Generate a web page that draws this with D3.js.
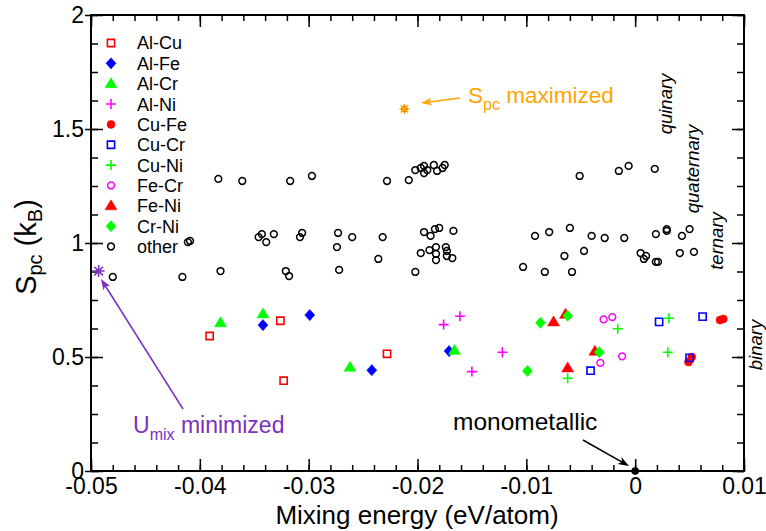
<!DOCTYPE html>
<html>
<head>
<meta charset="utf-8">
<script src="https://cdn.jsdelivr.net/npm/d3@7"></script>
<style>
  body { margin: 0; background: #fff; }
  svg text { font-family: "Liberation Sans", Arial, Helvetica, sans-serif; }
</style>
</head>
<body>
<svg id="chart" width="766" height="531"></svg>
<script>
// ---- data: [mixing energy (eV/atom), S_pc (kB)] ----
var alCu = [[-0.0391, 0.592], [-0.0326, 0.659], [-0.0323, 0.396], [-0.0228, 0.514]];
var alFe = [[-0.0342, 0.640], [-0.0299, 0.684], [-0.0242, 0.442], [-0.0171, 0.526]];
var alCr = [[-0.0381, 0.650], [-0.0342, 0.689], [-0.0262, 0.455], [-0.0166, 0.529]];
var alNi = [[-0.0176, 0.642], [-0.0161, 0.679], [-0.0122, 0.521], [-0.0150, 0.436]];
var cuFe = [[0.0081, 0.667], [0.0078, 0.662], [0.0049, 0.478], [0.0052, 0.500]];
var cuCr = [[0.0022, 0.654], [0.0062, 0.677], [0.0050, 0.496], [-0.0041, 0.440]];
var cuNi = [[-0.0016, 0.624], [0.0031, 0.670], [0.0030, 0.521], [-0.0062, 0.407]];
var feCr = [[-0.0029, 0.665], [-0.0021, 0.675], [-0.0032, 0.474], [-0.0012, 0.503]];
var feNi = [[-0.0075, 0.654], [-0.0064, 0.687], [-0.0037, 0.525], [-0.0062, 0.452]];
var crNi = [[-0.0087, 0.650], [-0.0062, 0.681], [-0.0033, 0.521], [-0.0099, 0.439]];
var other = [
  // quinary
  [-0.0383, 1.281], [-0.0361, 1.272], [-0.0317, 1.272], [-0.0297, 1.294], [-0.0228, 1.272],
  [-0.0208, 1.276], [-0.0202, 1.320], [-0.0197, 1.329], [-0.0194, 1.338], [-0.0194, 1.307],
  [-0.0191, 1.320], [-0.0185, 1.342], [-0.0182, 1.316], [-0.0177, 1.329], [-0.0175, 1.342],
  [-0.0051, 1.294], [-0.0015, 1.316], [-0.0006, 1.338], [0.0018, 1.325],
  // quaternary
  [-0.0411, 1.004], [-0.0409, 1.009], [-0.0346, 1.026], [-0.0343, 1.039], [-0.0339, 1.004],
  [-0.0332, 1.039], [-0.0308, 1.026], [-0.0306, 1.044], [-0.0273, 1.044], [-0.0274, 0.982],
  [-0.0260, 1.026], [-0.0232, 1.026], [-0.0236, 0.930], [-0.0194, 1.048], [-0.0188, 1.031],
  [-0.0184, 1.061], [-0.0180, 1.066], [-0.0167, 1.053], [-0.0197, 0.956], [-0.0189, 0.969],
  [-0.0183, 0.982], [-0.0183, 0.952], [-0.0174, 0.982], [-0.0173, 0.965], [-0.0173, 0.943],
  [-0.0168, 0.934], [-0.0183, 0.925], [-0.0092, 1.031], [-0.0079, 1.048], [-0.0060, 1.066],
  [-0.0040, 1.031], [-0.0028, 1.022], [-0.0010, 1.022], [0.0019, 1.039], [0.0029, 1.061],
  [0.0029, 1.053], [0.0043, 1.031], [0.0050, 1.061], [-0.0065, 0.943], [-0.0047, 0.965],
  [0.0005, 0.956], [0.0010, 0.943], [0.0008, 0.930], [0.0019, 0.917], [0.0021, 0.917],
  [0.0041, 0.956], [0.0054, 0.961],
  // ternary
  [-0.0480, 0.851], [-0.0416, 0.851], [-0.0381, 0.877], [-0.0321, 0.877], [-0.0318, 0.855],
  [-0.0272, 0.882], [-0.0202, 0.873], [-0.0103, 0.895], [-0.0083, 0.873], [-0.0058, 0.873]
];
var uMixMin = [[-0.0493, 0.877]];
var spcMax = [[-0.0212, 1.588]];
var monometallic = [[0, 0]];

var seriesNames = ["Al-Cu", "Al-Fe", "Al-Cr", "Al-Ni", "Cu-Fe", "Cu-Cr", "Cu-Ni", "Fe-Cr", "Fe-Ni", "Cr-Ni", "other"];
var seriesData = [alCu, alFe, alCr, alNi, cuFe, cuCr, cuNi, feCr, feNi, crNi, other];
var seriesShapes = ["square", "diamond", "triangle", "plus", "dot", "square", "plus", "circle", "triangle", "diamond", "circle"];
var seriesColors = ["#ff0000", "#0000ff", "#00ff00", "#ff00ff", "#ff0000", "#0000ff", "#00ff00", "#ff00ff", "#ff0000", "#00ff00", "#000000"];

var xTicks = [-0.05, -0.04, -0.03, -0.02, -0.01, 0, 0.01];
var xTickLabels = ["-0.05", "-0.04", "-0.03", "-0.02", "-0.01", "0", "0.01"];
var yTicks = [0, 0.5, 1, 1.5, 2];
var yTickLabels = ["0", "0.5", "1", "1.5", "2"];

// ---- setup ----
var svg = d3.select("#chart");
var x = d3.scaleLinear().domain([-0.05, 0.01]).range([91, 744]);
var y = d3.scaleLinear().domain([0, 2]).range([471, 15]);
var xMinor = d3.range(-0.05, 0.0101, 0.002);
var yMinor = d3.range(0, 2.001, 0.125);
var purple = "#7b2fc0";
var orange = "#ffa500";

function circlePath(r) {
  return "M" + r + ",0A" + r + "," + r + " 0 1 1 " + (-r) + ",0A" + r + "," + r + " 0 1 1 " + r + ",0Z";
}

// Marker shapes
var shapes = {
  square:   { d: "M-3.6,-3.6H3.6V3.6H-3.6Z", filled: false, sw: 1.6 },
  diamond:  { d: "M0,-5.6L5,0L0,5.6L-5,0Z", filled: true, sw: 0.5 },
  triangle: { d: "M0,-6L6,4L-6,4Z", filled: true, sw: 0.5 },
  plus:     { d: "M-5,0H5M0,-5V5", filled: false, sw: 1.6 },
  dot:      { d: circlePath(4), filled: true, sw: 0.5 },
  circle:   { d: circlePath(3.4), filled: false, sw: 1.5 }
};

function drawMarkers(g, pts, shape, color) {
  var s = shapes[shape];
  g.selectAll(null)
    .data(pts)
    .enter()
    .append("path")
    .attr("transform", function(d) { return "translate(" + x(d[0]) + "," + y(d[1]) + ")"; })
    .attr("d", s.d)
    .attr("fill", s.filled ? color : "none")
    .attr("stroke", color)
    .attr("stroke-width", s.sw);
}

// ---- axes ----
function styleAxis(g) {
  g.select(".domain").remove();
  g.selectAll(".tick line").attr("stroke", "#000").attr("stroke-width", 1.5);
  g.selectAll("text").attr("fill", "#000").attr("font-size", 23)
    .attr("font-family", "Liberation Sans, Arial, sans-serif");
}

svg.append("g").attr("transform", "translate(0,471)")
  .call(d3.axisBottom(x).tickValues(xTicks).tickFormat(function(d, i) { return xTickLabels[i]; })
    .tickSize(-12).tickPadding(7).tickSizeOuter(0))
  .call(styleAxis);
svg.append("g").attr("transform", "translate(0,471)")
  .call(d3.axisBottom(x).tickValues(xMinor).tickFormat("").tickSize(-6).tickSizeOuter(0))
  .call(styleAxis);
svg.append("g").attr("transform", "translate(0,15)")
  .call(d3.axisTop(x).tickValues(xTicks).tickFormat("").tickSize(-12).tickSizeOuter(0))
  .call(styleAxis);
svg.append("g").attr("transform", "translate(0,15)")
  .call(d3.axisTop(x).tickValues(xMinor).tickFormat("").tickSize(-6).tickSizeOuter(0))
  .call(styleAxis);

svg.append("g").attr("transform", "translate(91,0)")
  .call(d3.axisLeft(y).tickValues(yTicks).tickFormat(function(d, i) { return yTickLabels[i]; })
    .tickSize(6).tickPadding(1).tickSizeOuter(0))
  .call(styleAxis);
svg.append("g").attr("transform", "translate(91,0)")
  .call(d3.axisLeft(y).tickValues(yTicks).tickFormat("").tickSize(-12).tickSizeOuter(0))
  .call(styleAxis);
svg.append("g").attr("transform", "translate(91,0)")
  .call(d3.axisLeft(y).tickValues(yMinor).tickFormat("").tickSize(-7).tickSizeOuter(0))
  .call(styleAxis);
svg.append("g").attr("transform", "translate(744,0)")
  .call(d3.axisRight(y).tickValues(yTicks).tickFormat("").tickSize(-12).tickSizeOuter(0))
  .call(styleAxis);
svg.append("g").attr("transform", "translate(744,0)")
  .call(d3.axisRight(y).tickValues(yMinor).tickFormat("").tickSize(-7).tickSizeOuter(0))
  .call(styleAxis);

svg.append("rect")
  .attr("x", x(-0.05)).attr("y", y(2))
  .attr("width", x(0.01) - x(-0.05)).attr("height", y(0) - y(2))
  .attr("fill", "none").attr("stroke", "#000").attr("stroke-width", 2);

// ---- axis titles ----
svg.append("text")
  .attr("x", 417).attr("y", 524)
  .attr("text-anchor", "middle").attr("font-size", 26)
  .text("Mixing energy (eV/atom)");

var yt = svg.append("text")
  .attr("transform", "translate(36,247) rotate(-90)")
  .attr("text-anchor", "middle").attr("font-size", 29);
yt.append("tspan").text("S");
yt.append("tspan").attr("font-size", 20).attr("dy", 6).text("pc");
yt.append("tspan").attr("dy", -6).text(" (k");
yt.append("tspan").attr("font-size", 20).attr("dy", 6).text("B");
yt.append("tspan").attr("dy", -6).text(")");

// ---- points ----
var plot = svg.append("g");
seriesData.forEach(function(pts, i) {
  drawMarkers(plot.append("g"), pts, seriesShapes[i], seriesColors[i]);
});

// monometallic point
plot.selectAll(null).data(monometallic).enter().append("path")
  .attr("transform", function(d) { return "translate(" + x(d[0]) + "," + y(d[1]) + ")"; })
  .attr("d", circlePath(3.8)).attr("fill", "#000");

// U_mix minimized (asterisk)
plot.selectAll(null).data(uMixMin).enter().append("path")
  .attr("transform", function(d) { return "translate(" + x(d[0]) + "," + y(d[1]) + ")"; })
  .attr("d", "M-6,0H6M0,-6V6M-4.3,-4.3L4.3,4.3M-4.3,4.3L4.3,-4.3")
  .attr("stroke", purple).attr("stroke-width", 1.6).attr("fill", "none");

// S_pc maximized (star)
var sg = plot.selectAll(null).data(spcMax).enter().append("g")
  .attr("transform", function(d) { return "translate(" + x(d[0]) + "," + y(d[1]) + ")"; });
sg.append("path")
  .attr("d", "M-5,0H5M0,-5V5M-3.6,-3.6L3.6,3.6M-3.6,3.6L3.6,-3.6")
  .attr("stroke", orange).attr("stroke-width", 1.5);
sg.append("path").attr("d", circlePath(2.8))
  .attr("fill", orange).attr("stroke", "#a05a00").attr("stroke-width", 0.8)
  .attr("stroke-dasharray", "1.2,1");

// ---- legend ----
var legend = svg.append("g");
seriesNames.forEach(function(name, i) {
  var ly = 43 + i * 20.35;
  var s = shapes[seriesShapes[i]];
  legend.append("path")
    .attr("transform", "translate(111," + ly + ")")
    .attr("d", s.d)
    .attr("fill", s.filled ? seriesColors[i] : "none")
    .attr("stroke", seriesColors[i]).attr("stroke-width", s.sw);
  legend.append("text")
    .attr("x", 137).attr("y", ly).attr("dy", "0.36em")
    .attr("font-size", 18).text(name);
});

// ---- annotations ----
function arrow(x1, y1, x2, y2, color) {
  var a = Math.atan2(y2 - y1, x2 - x1);
  var len = 11, hw = 4, notch = 8;
  var bx = x2 - len * Math.cos(a), by = y2 - len * Math.sin(a);
  var nx = x2 - notch * Math.cos(a), ny = y2 - notch * Math.sin(a);
  var px = -Math.sin(a) * hw, py = Math.cos(a) * hw;
  svg.append("line")
    .attr("x1", x1).attr("y1", y1).attr("x2", nx).attr("y2", ny)
    .attr("stroke", color).attr("stroke-width", 1.5);
  svg.append("path")
    .attr("d", "M" + x2 + "," + y2 + "L" + (bx + px) + "," + (by + py) + "L" + nx + "," + ny +
      "L" + (bx - px) + "," + (by - py) + "Z")
    .attr("fill", color);
}

arrow(460, 98, 421, 103, orange);
var t1 = svg.append("text").attr("x", 468).attr("y", 103).attr("font-size", 22.5).attr("fill", orange);
t1.append("tspan").text("S");
t1.append("tspan").attr("font-size", 16).attr("dy", 7).text("pc");
t1.append("tspan").attr("dy", -7).text(" maximized");

arrow(183, 409, 101, 279, purple);
var t2 = svg.append("text").attr("x", 133).attr("y", 433).attr("font-size", 23).attr("fill", purple);
t2.append("tspan").text("U");
t2.append("tspan").attr("font-size", 16).attr("dy", 7).text("mix");
t2.append("tspan").attr("dy", -7).text(" minimized");

arrow(583, 440, 629, 466, "#000");
svg.append("text").attr("x", 453).attr("y", 430).attr("font-size", 24.5).text("monometallic");

var orders = [["quinary", 672, 104], ["quaternary", 699, 169], ["ternary", 723, 241], ["binary", 762, 345]];
orders.forEach(function(o) {
  svg.append("text")
    .attr("transform", "translate(" + o[1] + "," + o[2] + ") rotate(-90)")
    .attr("text-anchor", "middle").attr("font-style", "italic").attr("font-size", 18.5)
    .text(o[0]);
});
</script>
</body>
</html>
